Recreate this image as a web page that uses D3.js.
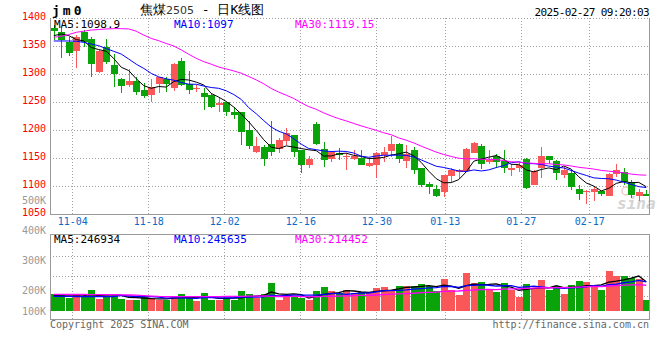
<!DOCTYPE html>
<html><head><meta charset="utf-8">
<script src="https://cdn.jsdelivr.net/npm/d3@7"></script>
<style>
body{margin:0;background:#fff;}
svg{display:block;}
text{font-family:"DejaVu Sans Mono","Liberation Mono",monospace;}
</style></head><body>
<svg id="c" width="660" height="360"></svg>
<script>
const dates = ["10-30","10-31","11-01","11-04","11-05","11-06","11-07","11-08","11-11","11-12","11-13","11-14","11-15","11-18","11-19","11-20","11-21","11-22","11-25","11-26","11-27","11-28","11-29","12-02","12-03","12-04","12-05","12-06","12-09","12-10","12-11","12-12","12-13","12-16","12-17","12-18","12-19","12-20","12-23","12-24","12-25","12-26","12-27","12-30","12-31","01-02","01-03","01-06","01-07","01-08","01-09","01-10","01-13","01-14","01-15","01-16","01-17","01-20","01-21","01-22","01-23","01-24","01-27","02-05","02-06","02-07","02-10","02-11","02-12","02-13","02-14","02-17","02-18","02-19","02-20","02-21","02-24","02-25","02-26","02-27"];
const open  = [1382,1376,1357,1340.5,1375,1363,1305,1349,1317,1292,1280,1288,1272,1262,1283,1292,1276,1323,1282,1274,1266,1263,1245,1250,1232,1232,1200,1161,1171,1175,1167,1182,1192,1164,1139,1211,1167,1149,1159,1154,1150,1151,1136,1138,1156,1163,1176,1144,1164,1133,1104,1096,1090,1119,1126,1127,1160,1172,1143,1154,1145,1129,1132,1149,1102,1132,1154,1145,1121,1124,1095,1091,1089,1092,1083,1122,1125,1108,1082,1087];
const high  = [1388,1382,1367,1370,1379,1367,1344,1363,1336,1293,1310,1296,1284,1292,1296,1295,1320,1330,1306,1281,1275,1266,1257,1250,1242,1232,1216,1188,1174,1217,1186,1204,1192,1164,1154,1214,1179,1163,1168,1159,1165,1165,1150,1162,1171,1189,1178,1174,1170,1133,1108,1102,1121,1132,1131,1168,1180,1175,1165,1157,1165,1139,1144,1150,1129,1170,1154,1147,1135,1129,1102,1093,1098,1092,1124,1140,1132,1112,1096,1093];
const low   = [1361,1329,1332,1312,1349,1296,1303,1318,1278,1267,1278,1263,1257,1251,1266,1269,1271,1280,1265,1269,1236,1239,1232,1226,1221,1174,1167,1159,1137,1154,1160,1174,1153,1123,1133,1174,1135,1143,1147,1129,1147,1138,1134,1114,1143,1153,1141,1132,1122,1098,1087,1081,1081,1108,1113,1126,1159,1131,1139,1132,1124,1119,1126,1096,1102,1115,1139,1111,1114,1093,1076,1068,1073,1083,1082,1117,1102,1080,1074,1083];
const close = [1377,1361,1337.5,1366,1357,1318,1342,1323,1301,1279,1288,1269,1262,1277,1295,1283,1318,1281,1272,1276,1258,1242,1248,1233,1227,1196,1171,1172,1150,1160,1183,1196,1161,1137,1149,1175,1148,1162,1156,1155,1155,1139,1142,1160,1162,1176,1150,1157,1128,1102,1098,1083,1120,1130,1129,1167,1178,1139,1147,1144,1133,1133,1138,1098,1127,1154,1147,1123,1130,1099,1086,1092,1095,1087,1122,1130,1108,1085,1090,1083];
const volume = [139000,133000,110000,133000,127000,174000,100000,139000,139000,100000,91000,91000,119000,110000,91000,91000,125000,141000,110000,83000,152000,91000,91000,110000,91000,166000,141000,110000,141000,230000,91000,119000,127000,110000,91000,164000,197000,166000,147000,174000,147000,155000,147000,193000,199000,174000,208000,208000,208000,224000,208000,166000,266000,174000,133000,315000,232000,241000,183000,158000,232000,174000,116000,224000,191000,257000,174000,208000,141000,216000,249000,241000,205000,174000,332000,291000,291000,274000,266000,91000];
// moving-average values before enough bars are visible
const ma5Head  = [1369,1372,1369,1362];
const ma10Head = [1359.5,1359.5,1359.5,1359,1357,1354,1351,1346,1341];
const ma30Head = [1366,1368,1371,1375,1377,1379,1380,1381,1381.5,1381.5,1381,1377,1370,1364,1360,1355,1350.6,1343.5,1335.7,1328.6,1322.6,1318,1313,1309.5,1306,1302,1296,1290,1283];
const vma5Head  = [127000,126000,125000,126000];
const vma10Head = [121000,121000,121000,120000,120000,120000,119000,119000,119000];
const vma30Head = [138000,138000,137000,137000,137000,136000,136000,135000,135000,134000,133000,132000,128000,124000,121000,120000,120000,120000,119000,119000,119000,120000,120000,121000,121000,122000,123000,124000,125000];
const priceTicks = [1400,1350,1300,1250,1200,1150,1100,1050];
const priceGrid = [1350,1300,1250,1200,1150,1100];
const dateLabels = ["11-04","11-18","12-02","12-16","12-30","01-13","01-27","02-17"];
const volTickValues = [500000,400000,300000,200000,100000];
const priceMaLabels = ["MA5:1098.9","MA10:1097","MA30:1119.15"];
const volMaLabels = ["MA5:246934","MA10:245635","MA30:214452"];
const maColors = ["#000000","#0000ff","#ff00ff"];

const UP = "#fa5858", DOWN = "#0aa40a", GRID = "#a0a0a0", FRAME = "#9a9a9a";
const L = 50, R = 650, T = 18.3, B = 214.3, VT = 234.3, VB = 311, VBOT = 319;

const svg = d3.select("#c");
const idx = d3.range(dates.length);
const x = d3.scaleBand().domain(idx).range([L, R]).padding(0);
const cx = i => x(i) + x.bandwidth() / 2;
const gridX = d3.scaleLinear().domain([0, dates.length - 1]).range([49.5, 650]);
const y = d3.scaleLinear().domain([1050, 1400]).range([B, T]);
const vy = d3.scaleLinear().domain([0, 640000]).range([VB, 234]);
const volLabelY = d3.scaleLinear().domain([100000, 200000, 500000]).range([311, 290, 200]);
const vGrid = d3.scaleLinear().domain([0, 4]).range([235.7, 315.7]);

function rolling(arr, n, head) {
  return arr.map((_, i) => i < n - 1 ? head[i] : d3.mean(arr.slice(i - n + 1, i + 1)));
}
const ma = [rolling(close, 5, ma5Head), rolling(close, 10, ma10Head), rolling(close, 30, ma30Head)];
const vma = [rolling(volume, 5, vma5Head), rolling(volume, 10, vma10Head), rolling(volume, 30, vma30Head)];

// ---- grids
const g = svg.append("g").attr("shape-rendering", "crispEdges");
g.selectAll(".hg").data(priceGrid).join("line")
  .attr("x1", L).attr("x2", R).attr("y1", d => Math.round(y(d)) + 0.5).attr("y2", d => Math.round(y(d)) + 0.5)
  .attr("stroke", GRID).attr("stroke-dasharray", "1,2");
g.append("line").attr("x1", L).attr("x2", R).attr("y1", Math.round(T) + 0.5).attr("y2", Math.round(T) + 0.5)
  .attr("stroke", GRID).attr("stroke-dasharray", "1,2");
const labelIdx = dateLabels.map(d => dates.indexOf(d));
g.selectAll(".vg").data(labelIdx).join("line")
  .attr("x1", d => Math.round(gridX(d)) + 0.5).attr("x2", d => Math.round(gridX(d)) + 0.5)
  .attr("y1", T).attr("y2", B).attr("stroke", GRID).attr("stroke-dasharray", "1,2");
g.selectAll(".vg2").data(labelIdx).join("line")
  .attr("x1", d => Math.round(gridX(d)) + 0.5).attr("x2", d => Math.round(gridX(d)) + 0.5)
  .attr("y1", VT).attr("y2", VBOT).attr("stroke", GRID).attr("stroke-dasharray", "1,2");
g.selectAll(".vh").data([1, 2, 3]).join("line")
  .attr("x1", L).attr("x2", R).attr("y1", d => Math.round(vGrid(d)) + 0.5).attr("y2", d => Math.round(vGrid(d)) + 0.5)
  .attr("stroke", GRID).attr("stroke-dasharray", "1,2");

// ---- watermark
svg.append("text").attr("x", 617).attr("y", 209).text("sina")
  .attr("font-family", "Verdana, 'DejaVu Sans', sans-serif").attr("font-style", "italic").attr("font-weight", "bold")
  .attr("font-size", 16).attr("fill", "#d4d4d4");
svg.append("circle").attr("cx", 626).attr("cy", 191).attr("r", 4).attr("fill", "none").attr("stroke", "#f0c8c8").attr("stroke-width", 1.5);

// ---- candles
const cg = svg.append("g").attr("shape-rendering", "crispEdges");
const cand = cg.selectAll("g").data(idx).join("g");
const colorOf = i => close[i] >= open[i] ? UP : DOWN;
cand.append("line")
  .attr("x1", i => Math.round(cx(i)) + 0.5).attr("x2", i => Math.round(cx(i)) + 0.5)
  .attr("y1", i => y(high[i])).attr("y2", i => y(low[i]))
  .attr("stroke", colorOf);
cand.append("rect")
  .attr("x", i => Math.round(cx(i)) - 3).attr("width", 7)
  .attr("y", i => Math.round(y(Math.max(open[i], close[i]))))
  .attr("height", i => Math.max(1, Math.round(Math.abs(y(open[i]) - y(close[i])))))
  .attr("fill", colorOf);

// ---- MA lines (price)
ma.forEach((arr, k) => {
  svg.append("path").attr("d", d3.line().x(i => cx(i)).y(i => y(arr[i]))(idx))
    .attr("fill", "none").attr("stroke", maColors[k]).attr("stroke-width", 1);
});

// ---- volume bars
const vg = svg.append("g").attr("shape-rendering", "crispEdges");
vg.selectAll("rect").data(idx).join("rect")
  .attr("x", i => Math.round(cx(i)) - 3).attr("width", 7)
  .attr("y", i => Math.round(vy(volume[i]))).attr("height", i => VB - Math.round(vy(volume[i])))
  .attr("fill", colorOf);
vma.forEach((arr, k) => {
  svg.append("path").attr("d", d3.line().x(i => cx(i)).y(i => vy(arr[i]))(idx))
    .attr("fill", "none").attr("stroke", maColors[k]).attr("stroke-width", 1.3);
});

// ---- frames
const fr = svg.append("g").attr("shape-rendering", "crispEdges").attr("stroke", FRAME).attr("fill", "none");
fr.append("line").attr("x1", L + 0.5).attr("x2", L + 0.5).attr("y1", T).attr("y2", B + 1);
fr.append("line").attr("x1", R - 0.5).attr("x2", R - 0.5).attr("y1", T).attr("y2", B + 1);
fr.append("line").attr("x1", L).attr("x2", R).attr("y1", Math.round(B) + 0.5).attr("y2", Math.round(B) + 0.5).attr("stroke-width", 1.5);
fr.append("rect").attr("x", L + 0.5).attr("y", Math.round(VT) + 0.5).attr("width", R - L - 1).attr("height", VBOT - Math.round(VT));

// ---- axes
const ay = svg.append("g").attr("transform", `translate(${L},0)`)
  .call(d3.axisLeft(y).tickValues(priceTicks).tickSize(0).tickPadding(4).tickFormat(d3.format("d")));
ay.select(".domain").remove();
ay.selectAll("text").attr("fill", "#f00").attr("font-size", 10).attr("y", -2)
  .attr("font-family", "'DejaVu Sans Mono', monospace");

const av = svg.append("g").attr("transform", `translate(${L},0)`)
  .call(d3.axisLeft(volLabelY).tickValues(volTickValues).tickSize(0).tickPadding(4).tickFormat(v => (v / 1000) + "K"));
av.select(".domain").remove();
av.selectAll("text").attr("fill", "#999").attr("font-size", 10).attr("y", 0)
  .attr("font-family", "'DejaVu Sans Mono', monospace");

const ax = svg.append("g").attr("transform", `translate(0,${B})`)
  .call(d3.axisBottom(gridX).tickValues(labelIdx).tickSize(0).tickPadding(4).tickFormat(i => dates[i]));
ax.select(".domain").remove();
ax.selectAll("text").attr("fill", "#0a6ac8").attr("font-size", 10)
  .attr("font-family", "'DejaVu Sans Mono', monospace");

// ---- legends
const legX = [54, 174, 295];
priceMaLabels.forEach((t, k) => svg.append("text").attr("x", legX[k]).attr("y", 27.5).text(t)
  .attr("font-size", 11).attr("fill", maColors[k]));
volMaLabels.forEach((t, k) => svg.append("text").attr("x", legX[k]).attr("y", 242.5).text(t)
  .attr("font-size", 11).attr("fill", maColors[k]));

// ---- titles
svg.append("text").attr("x", 52).attr("y", 14.5).text("jm0")
  .attr("font-size", 13).attr("font-weight", "bold").attr("letter-spacing", 3).attr("fill", "#000");
const tt = svg.append("text").attr("x", 140).attr("y", 13.5).attr("fill", "#000")
  .attr("font-family", "'Noto Sans CJK SC', sans-serif").attr("font-size", 13);
tt.append("tspan").text("焦煤");
tt.append("tspan").text("2505").attr("font-size", 11).attr("fill", "#333").attr("font-family", "'DejaVu Sans', sans-serif");
tt.append("tspan").text(" - 日K线图");
svg.append("text").attr("x", 649).attr("y", 15.5).attr("text-anchor", "end").text("2025-02-27 09:20:03")
  .attr("font-size", 11).attr("letter-spacing", -0.6).attr("fill", "#000");

// ---- footer
svg.append("text").attr("x", 50).attr("y", 327.5).text("Copyright 2025 SINA.COM").attr("font-size", 10).attr("fill", "#666");
svg.append("text").attr("x", 649).attr("y", 327.5).attr("text-anchor", "end").text("http://finance.sina.com.cn")
  .attr("font-size", 10).attr("fill", "#666");
</script>
</body></html>
